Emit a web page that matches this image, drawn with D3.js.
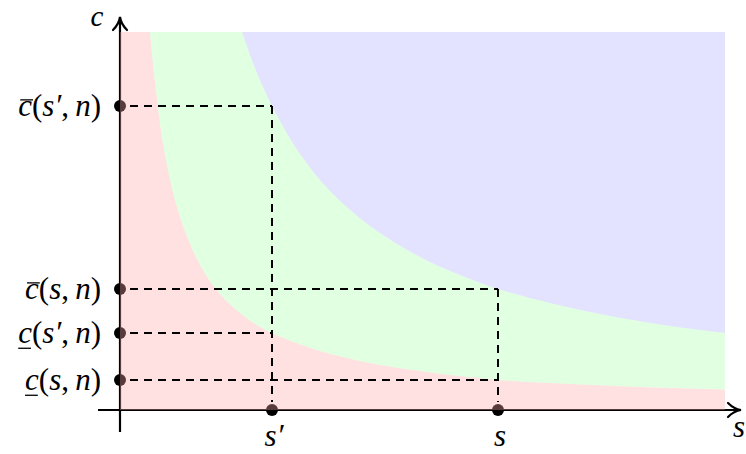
<!DOCTYPE html>
<html><head><meta charset="utf-8">
<script src="https://cdn.jsdelivr.net/npm/d3@7"></script>
<style>html,body{margin:0;padding:0;background:#fff;}svg{display:block;}
svg text{font-family:"Liberation Serif","Times New Roman",serif;font-size:31px;}</style>
</head><body>
<svg id="chart" width="746" height="454"></svg>
<script>
// ---- data ----
const sTicks = [1.52, 3.78];               // s', s
const sTickLabels = ["s′", "s"];
const cTicks = [3.04, 1.21, 0.77, 0.30];   // c̄(s',n), c̄(s,n), c̲(s',n), c̲(s,n)
const cTickLabels = [
  {bar: "over", arg: "s′"},
  {bar: "over", arg: "s"},
  {bar: "under", arg: "s′"},
  {bar: "under", arg: "s"}
];
// guide lines: [s, c]
const guides = [[1.52, 3.04], [3.78, 1.21], [1.52, 0.77], [3.78, 0.30]];
// lower boundary c̲(s,n)
const lowerS = [0.30, 0.35, 0.45, 0.60, 0.80, 1.00, 1.25, 1.52, 2.00, 2.50, 3.00, 3.78, 4.50, 5.20, 6.05];
const lowerC = [3.78, 3.28, 2.55, 1.93, 1.45, 1.16, 0.93, 0.77, 0.59, 0.47, 0.39, 0.30, 0.26, 0.23, 0.205];
// upper boundary c̄(s,n)
const upperS = [1.22, 1.35, 1.52, 1.80, 2.10, 2.50, 3.00, 3.40, 3.78, 4.30, 4.90, 5.50, 6.05];
const upperC = [3.78, 3.42, 3.04, 2.56, 2.19, 1.84, 1.53, 1.35, 1.21, 1.07, 0.94, 0.84, 0.77];
const sMax = 6.05, cMax = 3.78;

// ---- scales ----
const svg = d3.select("#chart");
const x = d3.scaleLinear().domain([0, 6.2]).range([120, 740]);
const y = d3.scaleLinear().domain([0, 3.92]).range([410, 18]);

const lower = lowerS.map((s, i) => [s, lowerC[i]]);
const upper = upperS.map((s, i) => [s, upperC[i]]);
const curveLine = d3.line().x(d => x(d[0])).y(d => y(d[1])).curve(d3.curveCatmullRom.alpha(0.5));
const P = (s, c) => `L${x(s)},${y(c)}`;

// ---- axes (below fills) ----
const g = svg.append("g");
g.append("line").attr("x1", 98).attr("x2", x(6.2) - 2).attr("y1", y(0)).attr("y2", y(0))
  .attr("stroke", "#000").attr("stroke-width", 2.2);
g.append("line").attr("x1", x(0)).attr("x2", x(0)).attr("y1", 432).attr("y2", y(3.92) + 2)
  .attr("stroke", "#000").attr("stroke-width", 2.2);
const ax = x(6.2), ay = y(0);
g.append("path").attr("d", `M${ax - 12},${ay - 7} Q${ax - 6},${ay - 1} ${ax + 1},${ay} Q${ax - 6},${ay + 1} ${ax - 12},${ay + 7}`)
  .attr("fill", "none").attr("stroke", "#000").attr("stroke-width", 2.2).attr("stroke-linecap", "round");
const bx = x(0), by = y(3.92);
g.append("path").attr("d", `M${bx - 7},${by + 12} Q${bx - 1},${by + 6} ${bx},${by - 1} Q${bx + 1},${by + 6} ${bx + 7},${by + 12}`)
  .attr("fill", "none").attr("stroke", "#000").attr("stroke-width", 2.2).attr("stroke-linecap", "round");

// dots
g.selectAll("circle.cd").data(cTicks).join("circle").attr("class", "cd")
  .attr("cx", x(0)).attr("cy", d => y(d)).attr("r", 6).attr("fill", "#000");
g.selectAll("circle.sd").data(sTicks).join("circle").attr("class", "sd")
  .attr("cx", d => x(d)).attr("cy", y(0)).attr("r", 6).attr("fill", "#000");

// ---- fills ----
const lowerPath = curveLine(lower);
const upperPath = curveLine(upper);
const redD = `M${x(0)},${y(0)}${P(0, cMax)}${P(lower[0][0], cMax)}` + lowerPath.replace(/^M/, "L") + `${P(sMax, 0)}Z`;
const greenD = lowerPath + `${P(sMax, upper[upper.length - 1][1])}` +
  curveLine(upper.slice().reverse()).replace(/^M/, "L") + `${P(lower[0][0], cMax)}Z`;
const blueD = upperPath + `${P(sMax, cMax)}Z`;

svg.append("path").attr("d", redD).attr("fill", "rgb(255,170,170)").attr("fill-opacity", 0.35);
svg.append("path").attr("d", greenD).attr("fill", "rgb(170,255,170)").attr("fill-opacity", 0.35);
svg.append("path").attr("d", blueD).attr("fill", "rgb(170,170,255)").attr("fill-opacity", 0.33);

// ---- dashed guides ----
const dg = svg.append("g").attr("stroke", "#000").attr("stroke-width", 2).attr("stroke-dasharray", "8,6").attr("fill", "none");
guides.forEach(([s, c]) => {
  dg.append("line").attr("x1", x(0) + 10).attr("x2", x(s)).attr("y1", y(c)).attr("y2", y(c));
});
[[1.52, 3.04], [3.78, 1.21]].forEach(([s, c]) => {
  dg.append("line").attr("x1", x(s)).attr("x2", x(s)).attr("y1", y(c)).attr("y2", y(0) - 8);
});

// ---- labels ----
const FS = 31;
const lab = svg.append("g").attr("fill", "#000");
cTicks.forEach((c, i) => {
  const base = y(c) + 10;
  const t = lab.append("text").attr("x", 101).attr("y", base).attr("text-anchor", "end");
  t.append("tspan").style("font-style", "italic").text("c");
  t.append("tspan").text("(");
  t.append("tspan").style("font-style", "italic").text(cTickLabels[i].arg);
  t.append("tspan").text(",\u2009");
  t.append("tspan").style("font-style", "italic").text("n");
  t.append("tspan").text(")");
  const node = t.node();
  const p0 = node.getStartPositionOfChar(0).x;
  const p1 = node.getEndPositionOfChar(0).x;
  const over = cTickLabels[i].bar === "over";
  const by2 = over ? base - FS * 0.52 : base + FS * 0.17;
  lab.append("line").attr("x1", p0 + (over ? 2 : 0)).attr("x2", p1 + (over ? 1 : -1))
    .attr("y1", by2).attr("y2", by2).attr("stroke", "#000").attr("stroke-width", 1.3);
});
sTicks.forEach((s, i) => {
  lab.append("text").attr("x", x(s) + 2).attr("y", 446).attr("text-anchor", "middle")
    .style("font-style", "italic").text(sTickLabels[i]);
});
lab.append("text").attr("x", 739).attr("y", 437).attr("text-anchor", "middle").style("font-style", "italic").text("s");
lab.append("text").attr("x", 97).attr("y", 26).attr("text-anchor", "middle").style("font-style", "italic")
  .style("font-size", "29px").text("c");
</script>
</body></html>
